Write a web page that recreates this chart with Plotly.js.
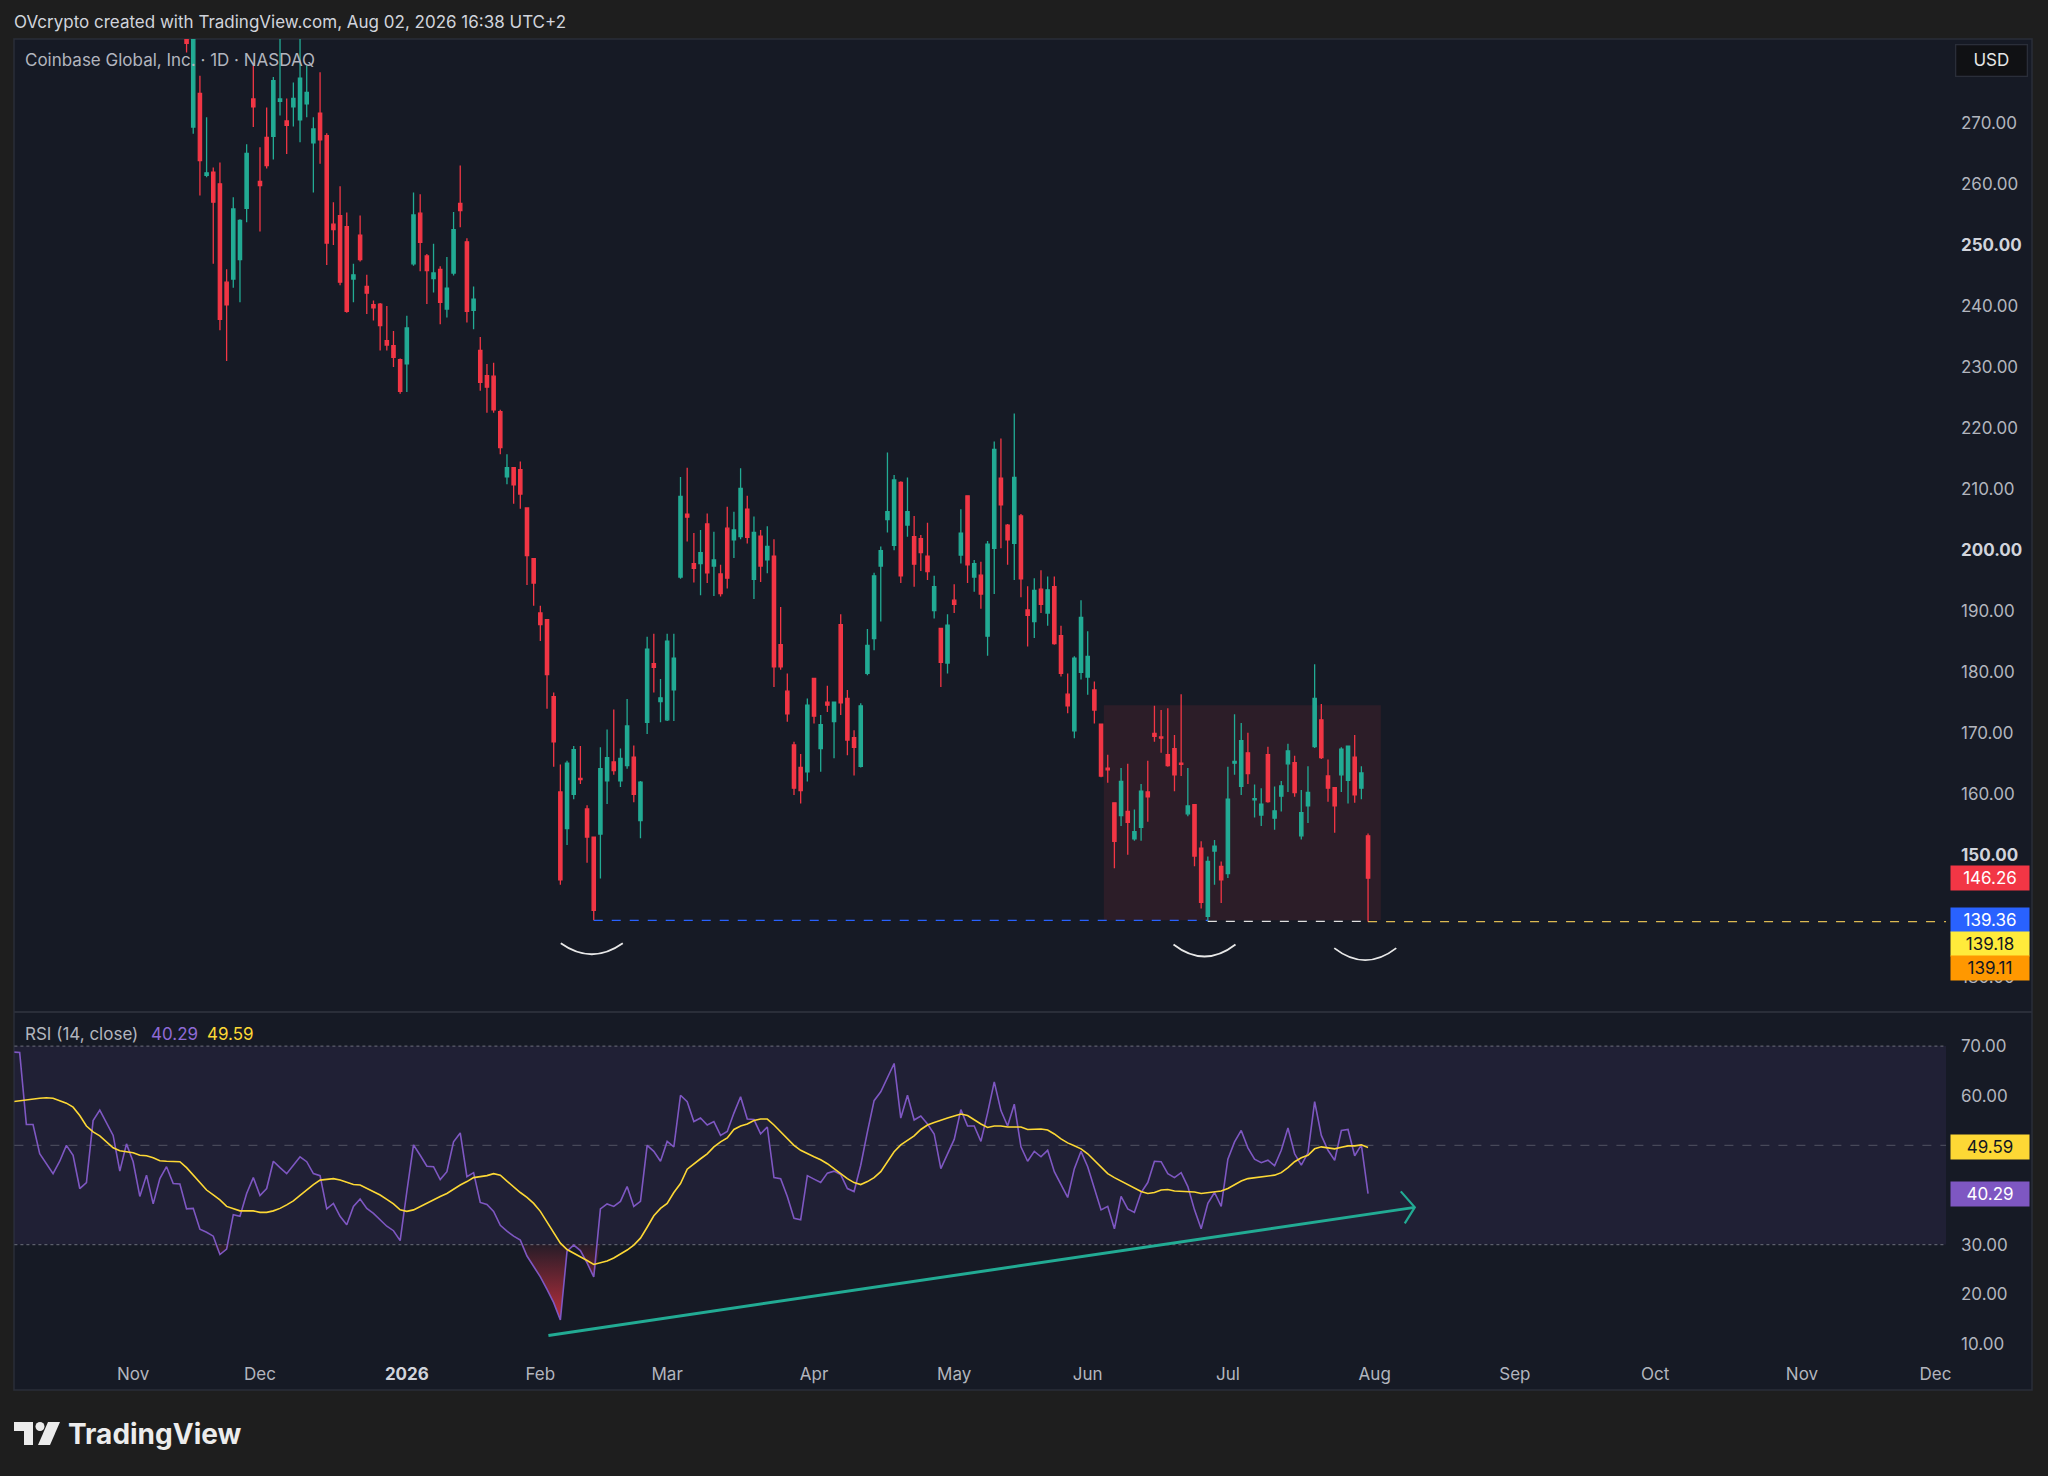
<!DOCTYPE html>
<html><head><meta charset="utf-8">
<script src="https://cdn.plot.ly/plotly-3.0.1.min.js"></script>
<style>html,body{margin:0;padding:0;background:#1e1e1e;}#chart{width:2048px;height:1476px;}</style>
</head><body><div id="chart"></div><script>
// ---- data ----
const HOLIDAYS = ['2025-11-27','2025-12-25','2026-01-01','2026-01-19','2026-02-16','2026-04-03','2026-05-25','2026-06-19','2026-07-03','2026-09-07','2026-11-26'];
const RSI_START = '2025-10-08';      // first RSI bar
const CANDLE_OFFSET = 26;             // first visible candle (2025-11-13)

const open = [290,269.3,274.8,261.4,261.9,260.0,243.9,244.4,247.6,256.0,
273.9,260.4,267.6,267.8,273.5,270.3,272.6,270.5,273.1,266.7,
271.6,267.9,253.4,254.8,253.0,244.4,251.6,243.2,240.2,240.3,
234.3,233.5,231.2,230.5,246.9,255.2,248.2,244.5,246.0,239.5,
245.4,256.8,250.5,239.3,232.7,228.6,228.5,222.7,212.0,213.5,
213.2,206.9,198.6,189.7,188.6,176.0,160.4,154.4,160.0,162.6,
157.6,153.0,153.5,162.2,165.3,162.2,164.7,166.1,155.7,171.8,
181.4,175.2,172.2,177.1,195.6,205.9,197.8,197.8,204.3,197.4,
196.1,203.6,201.7,202.2,206.7,195.2,202.3,198.4,199.0,184.5,
176.9,168.1,164.4,163.7,179.0,167.5,175.1,171.9,187.8,175.7,
169.3,164.6,179.8,185.5,197.4,205.0,200.8,211.1,204.1,202.2,
201.9,199.0,190.1,187.2,181.5,191.8,199.2,208.9,195.6,195.9,
185.9,200.3,211.8,204.1,201.1,205.6,190.2,188.3,193.6,189.7,
194.0,186.0,176.4,170.4,180.0,179.2,177.1,171.5,164.3,158.6,
156.5,157.2,152.7,154.6,160.4,170.0,169.4,166.5,167.5,165.1,
156.8,158.3,151.2,140.0,150.7,148.2,147.0,165.1,161.3,166.8,
159.1,156.6,166.5,156.1,159.7,165.0,165.2,153.2,158.1,167.8,
172.2,163.0,161.1,163.2,162.3,166.1,161.0,153.2];
const high = [295,295,277.7,270.9,262.7,263.5,246.0,257.8,254.2,266.5,
279.4,266.0,272.5,277.5,290,274.0,276.6,290,279.4,270.9,
278.3,268.3,257.0,259.6,255.3,246.9,254.8,245.1,240.9,240.5,
240.0,235.9,231.4,238.4,258.6,258.3,248.5,250.2,246.5,248.0,
255.4,263.0,251.1,243.2,234.9,230.5,230.7,223.0,215.7,213.6,
214.5,207.0,198.7,190.9,188.7,176.7,164.9,165.5,167.9,167.9,
158.2,153.1,167.7,170.6,173.9,167.5,175.6,168.0,162.2,185.8,
186.3,178.9,186.3,186.3,212.0,213.5,202.8,203.3,206.0,203.0,
197.6,207.1,206.3,213.4,208.9,205.5,203.3,203.9,201.8,190.7,
179.8,168.6,166.6,175.7,179.1,173.0,177.8,175.2,189.5,177.1,
170.5,174.9,187.1,196.3,200.6,216.0,212.3,211.3,211.9,205.6,
202.5,204.5,195.8,187.3,189.5,194.4,206.7,209.0,198.4,198.1,
201.5,217.8,218.3,204.3,222.4,205.9,194.1,195.4,196.7,195.7,
195.7,187.6,179.8,182.6,191.8,186.7,178.5,171.6,166.5,158.7,
164.3,165.0,157.5,161.7,165.5,174.5,173.8,174.1,169.7,176.4,
164.3,158.4,152.3,149.8,152.5,149.0,164.5,173.1,171.7,170.1,
161.6,161.0,167.8,161.3,162.2,168.3,166.3,160.7,164.6,181.3,
174.8,165.7,161.2,167.7,168.0,169.7,164.6,153.6];
const low = [281.5,268.2,258.1,261.1,246.9,236.0,231.0,243.0,240.6,253.7,
269.3,252.2,262.5,264.0,271.2,264.9,269.4,266.8,270.9,258.6,
263.3,246.7,250.0,243.4,238.9,240.6,247.3,238.7,237.6,232.7,
232.7,230.0,225.6,225.9,246.6,245.7,240.3,242.2,237.0,238.1,
245.0,252.9,237.3,236.2,226.1,222.5,222.5,215.7,210.8,207.6,
206.8,194.3,190.9,185.1,174.0,164.5,145.2,151.7,159.2,161.7,
148.8,139.36,146.2,158.4,163.2,161.2,164.2,158.7,152.8,169.9,
176.7,171.8,172.0,172.0,195.3,201.4,194.7,192.6,194.6,192.5,
192.4,193.7,198.7,201.8,201.1,192.0,194.8,196.2,177.6,180.4,
171.9,159.9,158.5,162.1,171.6,163.7,173.5,165.9,173.0,166.4,
163.1,164.4,179.5,183.6,188.3,202.9,200.0,194.6,202.2,194.0,
196.6,195.1,188.8,177.6,179.8,189.7,197.8,194.6,193.2,190.4,
182.7,192.8,200.3,197.6,195.1,192.3,184.2,185.6,189.7,187.6,
184.5,179.3,173.3,169.2,178.8,176.3,171.6,162.8,161.9,147.9,
154.8,150.1,152.4,152.4,155.5,168.6,166.8,164.5,160.5,163.0,
156.4,148.2,141.3,139.18,145.2,142.2,146.3,163.2,159.9,161.7,
156.2,154.8,158.6,154.2,157.2,160.4,159.6,152.6,155.3,167.6,
165.8,158.8,153.7,160.4,158.5,158.6,159.2,139.11];
const close = [283,290,263.8,261.8,257.0,237.8,240.2,255.9,254.0,265.0,
272.6,259.7,263.0,276.9,273.9,269.6,274.0,277.3,275.0,269.0,
267.2,250.3,252.5,243.9,239.1,245.1,247.6,242.1,239.7,236.8,
233.6,231.6,226.0,236.4,254.9,250.4,245.8,245.4,240.6,242.9,
252.5,255.6,239.1,241.1,227.5,226.7,223.0,216.8,213.5,210.7,
209.2,199.1,194.6,187.8,179.6,168.6,146.0,165.1,167.3,162.4,
153.0,141.0,164.2,166.0,163.9,165.9,171.2,160.0,162.0,183.8,
180.8,175.8,185.1,182.3,208.8,205.4,197.0,199.6,196.3,198.4,
192.9,195.4,203.3,210.1,202.1,202.9,197.4,200.6,180.9,180.9,
173.2,161.0,160.6,174.6,172.8,171.4,174.6,175.1,175.0,168.9,
167.7,174.5,184.4,195.8,199.9,206.3,211.5,195.8,206.3,197.7,
199.6,196.5,194.0,181.6,187.7,191.1,202.8,197.6,197.8,192.8,
201.0,216.5,207.4,201.7,211.9,195.3,189.3,193.4,191.1,193.5,
184.7,179.8,174.5,182.3,189.0,182.6,173.8,163.0,164.0,152.3,
162.1,155.4,153.9,160.5,159.6,169.5,169.2,164.7,163.2,164.9,
158.1,149.9,142.3,149.0,151.5,146.0,159.2,165.4,168.8,163.4,
159.3,158.4,158.8,157.3,161.4,167.1,160.3,157.0,160.3,175.7,
166.0,161.0,158.1,167.4,167.9,159.9,163.5,146.26];

const rsi = [68.8,68.7,54.2,54.2,48.3,46.3,44.3,46.8,50.0,48.0,41.3,42.5,55.0,57.1,54.7,52.0,44.8,50.3,46.7,39.7,44.0,38.2,43.3,45.7,42.3,42.2,
37.2,37.3,33.1,32.5,31.7,28.0,29.1,36.0,35.7,40.3,43.5,39.9,41.3,46.8,45.5,44.3,46.0,47.7,46.7,44.3,43.9,37.2,38.3,35.7,34.0,37.7,39.2,37.3,36.3,35.0,33.7,32.8,30.8,40.7,50.1,48.0,45.8,45.7,43.1,44.7,50.7,52.5,43.7,
44.5,38.5,38.1,36.7,33.9,32.7,31.7,30.9,27.7,25.5,23.5,21.0,18.3,14.8,28.7,29.9,28.8,26.3,23.5,37.2,38.2,37.7,38.7,41.7,37.7,38.7,50.0,48.8,46.8,50.8,49.7,60.1,58.8,54.8,55.5,54.1,54.8,52.0,52.8,56.5,59.8,55.3,55.2,52.3,53.7,43.5,43.3,39.7,35.3,35.0,43.9,43.2,42.5,44.4,44.8,44.1,41.3,40.7,46.0,52.7,59.0,60.8,63.7,66.5,55.5,60.1,55.1,55.9,
54.3,52.3,45.3,48.3,51.2,57.2,53.9,53.9,50.8,56.5,62.8,57.0,53.9,58.3,49.7,46.8,48.8,47.7,49.0,44.7,42.1,39.5,45.3,48.8,45.7,41.3,37.0,37.7,33.2,39.7,37.2,36.5,40.5,42.5,46.8,46.7,44.3,43.5,44.5,41.7,37.0,33.2,38.3,40.5,37.7,47.2,50.7,53.0,49.5,47.2,46.5,47.0,45.9,49.0,53.5,48.3,46.0,48.5,58.8,52.0,49.0,47.0,53.0,53.2,47.9,50.1,40.29];
const rsiMA = [58.8,59.0,59.1,59.3,59.5,59.6,59.5,59.0,58.5,57.7,56.0,53.9,52.7,51.9,50.7,49.5,48.9,48.7,48.5,48.0,47.9,47.5,46.9,46.8,46.8,46.7,
45.5,44.0,42.5,41.0,40.0,39.0,37.7,37.2,36.8,36.8,36.8,36.5,36.5,36.8,37.3,38.0,38.8,39.9,41.0,42.1,43.0,43.2,43.3,43.0,42.5,42.1,42.0,41.3,40.7,40.0,39.1,38.2,37.0,36.7,37.0,37.7,38.3,39.0,39.7,40.3,41.2,42.0,42.7,
43.5,43.7,43.9,44.3,44.0,42.8,41.6,40.5,39.5,38.3,36.7,34.5,32.3,30.3,29.0,28.3,27.5,26.8,26.0,26.3,26.7,27.3,28.1,28.9,29.9,31.3,33.5,35.8,37.3,38.3,40.5,42.3,45.2,46.3,47.3,48.3,49.7,50.7,51.5,53.2,53.9,54.3,55.0,55.3,55.3,54.1,52.7,51.3,50.0,49.0,48.3,47.7,47.1,46.3,45.3,44.3,43.3,42.5,42.1,42.7,43.5,44.7,46.7,48.7,50.1,51.0,51.9,53.2,
54.1,54.6,55.1,55.5,55.9,56.3,56.0,55.1,54.3,53.6,53.9,53.9,53.7,53.7,53.7,53.2,53.3,53.3,53.1,52.3,51.3,50.5,49.9,49.3,48.3,47.0,45.5,44.3,43.5,42.8,42.1,41.3,40.7,40.3,40.5,41.0,41.1,40.8,40.7,40.7,40.6,40.3,40.5,40.7,40.8,41.3,42.0,42.8,43.3,43.5,43.6,43.8,44.0,44.5,45.5,46.7,47.5,48.0,49.3,49.7,49.5,49.3,49.6,49.9,49.9,50.1,49.59];

const monthTickDates = ['2025-11-03','2025-12-01','2026-01-02','2026-02-02','2026-03-02','2026-04-01','2026-05-01','2026-06-01','2026-07-01','2026-08-03','2026-09-01','2026-10-01','2026-11-02','2026-12-01'];
const monthTickText = ['Nov','Dec','<b style="color:#d1d4dc">2026</b>','Feb','Mar','Apr','May','Jun','Jul','Aug','Sep','Oct','Nov','Dec'];
const priceTicks = [130,150,160,170,180,190,200,210,220,230,240,250,260,270];
const rsiTicks = [10,20,30,60,70];

// ---- trading-day calendar ----
function tradingDays(start, n){
  const out=[]; const d=new Date(start+'T00:00:00Z');
  while(out.length<n){
    const s=d.toISOString().slice(0,10), wd=d.getUTCDay();
    if(wd!==0 && wd!==6 && HOLIDAYS.indexOf(s)<0) out.push(s);
    d.setUTCDate(d.getUTCDate()+1);
  }
  return out;
}
const rsiDates = tradingDays(RSI_START, rsi.length);
const candleDates = rsiDates.slice(CANDLE_OFFSET, CANDLE_OFFSET+open.length);

const W=2048,H=1476;
const px=x=>x/W, py=y=>1-y/H;
const FONT='Inter, "Noto Sans", Roboto, sans-serif';
const GREEN='#22ab94', RED='#f23645', PURPLE='#7e57c2', YEL='#fdd835';

const fmt=v=>v.toFixed(2);
const priceText = priceTicks.map(v=> (v%50===0) ? '<b style="color:#d1d4dc">'+fmt(v)+'</b>' : fmt(v));

const traces = [
  {type:'candlestick', x:candleDates, open:open, high:high, low:low, close:close,
   xaxis:'x', yaxis:'y', whiskerwidth:0, hoverinfo:'skip',
   increasing:{line:{color:GREEN,width:1.3}, fillcolor:GREEN},
   decreasing:{line:{color:RED,width:1.3}, fillcolor:RED}},
  {type:'scatter', mode:'lines', x:rsiDates, y:rsi.map(()=>30), xaxis:'x', yaxis:'y2',
   line:{width:0, color:'rgba(0,0,0,0)'}, hoverinfo:'skip'},
  {type:'scatter', mode:'lines', x:rsiDates, y:rsi.map(v=>Math.min(v,30)), xaxis:'x', yaxis:'y2',
   line:{width:0, color:'rgba(0,0,0,0)'}, fill:'tonexty',
   fillgradient:{type:'vertical', colorscale:[[0,'rgba(242,54,69,0.75)'],[1,'rgba(242,54,69,0.08)']]},
   hoverinfo:'skip'},
  {type:'scatter', mode:'lines', x:rsiDates, y:rsi, xaxis:'x', yaxis:'y2',
   line:{color:PURPLE, width:1.6}, hoverinfo:'skip'},
  {type:'scatter', mode:'lines', x:rsiDates, y:rsiMA, xaxis:'x', yaxis:'y2',
   line:{color:YEL, width:1.6}, hoverinfo:'skip'}
];

const shapes = [
  {type:'rect', xref:'paper', yref:'paper', x0:px(14), x1:px(2032), y0:py(1390), y1:py(39),
   fillcolor:'#161a25', line:{color:'#2a2e39', width:1.5}, layer:'below'},
  {type:'line', xref:'paper', yref:'paper', x0:px(14), x1:px(2032), y0:py(1012), y1:py(1012),
   line:{color:'#2a2e39', width:2}},
  {type:'rect', xref:'x domain', yref:'y2', x0:0, x1:1, y0:30, y1:70,
   fillcolor:'rgba(126,87,194,0.1)', line:{width:0}, layer:'below'},
  {type:'line', xref:'x domain', yref:'y2', x0:0, x1:1, y0:70, y1:70, line:{color:'rgba(120,123,134,0.7)', width:1.3, dash:'dot'}, layer:'below'},
  {type:'line', xref:'x domain', yref:'y2', x0:0, x1:1, y0:50, y1:50, line:{color:'rgba(120,123,134,0.45)', width:1.3, dash:'dash'}, layer:'below'},
  {type:'line', xref:'x domain', yref:'y2', x0:0, x1:1, y0:30, y1:30, line:{color:'rgba(120,123,134,0.7)', width:1.3, dash:'dot'}, layer:'below'},
  {type:'rect', xref:'x', yref:'y', x0:'2026-06-03 10:00', x1:'2026-08-03 22:00', y0:139.36, y1:174.6,
   fillcolor:'rgba(242,54,69,0.1)', line:{width:0}, layer:'below'},
  {type:'line', xref:'x', yref:'y', x0:'2026-02-12', x1:'2026-06-26', y0:139.36, y1:139.36, line:{color:'#2962ff', width:1.3, dash:'dash'}},
  {type:'line', xref:'x', yref:'y', x0:'2026-06-26', x1:'2026-07-31', y0:139.2, y1:139.2, line:{color:'#e0e0e0', width:1.3, dash:'dash'}},
  {type:'line', xref:'x', yref:'y', x0:'2026-07-31', x1:'2026-12-02 14:00', y0:139.15, y1:139.15, line:{color:'rgba(255,214,90,0.85)', width:1.2, dash:'dash'}},
  {type:'path', xref:'x', yref:'y', xsizemode:'pixel', ysizemode:'pixel', xanchor:'2026-02-11 17:00', yanchor:135.6,
   path:'M-31,0 Q0,-22 31,0', line:{color:'#e8e8e8', width:1.8}},
  {type:'path', xref:'x', yref:'y', xsizemode:'pixel', ysizemode:'pixel', xanchor:'2026-06-25 12:00', yanchor:135.4,
   path:'M-31,0 Q0,-24 31,0', line:{color:'#e8e8e8', width:1.8}},
  {type:'path', xref:'x', yref:'y', xsizemode:'pixel', ysizemode:'pixel', xanchor:'2026-07-30 14:00', yanchor:134.8,
   path:'M-31,0 Q0,-24 31,0', line:{color:'#e8e8e8', width:1.8}},
  {type:'line', xref:'x', yref:'y2', x0:'2026-02-03 05:00', x1:'2026-08-11', y0:11.7, y1:37.5,
   line:{color:GREEN, width:3}},
  {type:'path', xref:'x', yref:'y2', xsizemode:'pixel', ysizemode:'pixel', xanchor:'2026-08-11', yanchor:37.5,
   path:'M-14,16 L0,0 L-10,-16', line:{color:GREEN, width:2.2}},
  {type:'path', xref:'paper', yref:'paper', xsizemode:'pixel', ysizemode:'pixel', xanchor:px(14), yanchor:py(1445),
   path:'M0,23 H19 V0 H10 V14 H0 Z', fillcolor:'#ececec', line:{width:0}},
  {type:'circle', xref:'paper', yref:'paper', xsizemode:'pixel', ysizemode:'pixel', xanchor:px(14), yanchor:py(1445),
   x0:21.5, x1:30.5, y0:14, y1:23, fillcolor:'#ececec', line:{width:0}},
  {type:'path', xref:'paper', yref:'paper', xsizemode:'pixel', ysizemode:'pixel', xanchor:px(14), yanchor:py(1445),
   path:'M34,23 H46 L36,0 H24 Z', fillcolor:'#ececec', line:{width:0}}
];

function box(text, y, yref, bg, fg, yshift){
  return {xref:'paper', yref:yref, x:px(1950), y:y, xanchor:'left', yanchor:'middle', yshift:yshift||0,
    text:text, showarrow:false, bgcolor:bg, borderpad:2, width:74, height:20, align:'center',
    font:{family:FONT, size:17, color:fg}};
}
function label(text, x, y, size, color, extra){
  return Object.assign({xref:'paper', yref:'paper', x:px(x), y:py(y), xanchor:'left', yanchor:'middle',
    text:text, showarrow:false, font:{family:FONT, size:size, color:color}}, extra||{});
}

const annotations = [
  label('OVcrypto created with TradingView.com, Aug 02, 2026 16:38 UTC+2', 12, 22, 17, '#d1d4dc'),
  label('Coinbase Global, Inc. · 1D · NASDAQ', 23, 60, 17, '#b2b5be'),
  label('RSI (14, close)', 23, 1034, 17, '#b2b5be'),
  label('40.29', 149, 1034, 17, '#8e6ad6'),
  label('49.59', 205, 1034, 17, YEL),
  label('<b>TradingView</b>', 66, 1434, 28, '#ececec'),
  {xref:'paper', yref:'paper', x:px(1991), y:py(61), xanchor:'center', yanchor:'middle', text:'USD', showarrow:false,
   bgcolor:'#101114', bordercolor:'#2a2e39', borderwidth:1.3, borderpad:4, width:62, height:22,
   font:{family:FONT, size:17, color:'#e6e6e6'}},
  box('146.26', 146.26, 'y', RED, '#ffffff', 0),
  box('139.36', 139.36, 'y', '#2962ff', '#ffffff', 0),
  box('139.18', 139.18, 'y', '#ffeb3b', '#131722', -23),
  box('139.11', 139.11, 'y', '#ff9800', '#131722', -46),
  box('49.59', 49.59, 'y2', YEL, '#131722', 0),
  box('40.29', 40.29, 'y2', PURPLE, '#ffffff', 0)
];

const layout = {
  width:W, height:H, margin:{l:0,r:0,t:0,b:0},
  paper_bgcolor:'#1e1e1e', plot_bgcolor:'rgba(0,0,0,0)',
  showlegend:false, hovermode:false, dragmode:false,
  font:{family:FONT, color:'#b2b5be', size:17},
  xaxis:{type:'date', domain:[px(14.4), px(1946)], anchor:'y2',
    range:['2025-10-08 05:00','2026-12-02 14:00'],
    rangebreaks:[{bounds:['sat','mon']},{values:HOLIDAYS}],
    rangeslider:{visible:false},
    tickmode:'array', tickvals:monthTickDates, ticktext:monthTickText,
    showgrid:false, zeroline:false, showline:false, ticks:'', ticklabelstandoff:4,
    tickfont:{family:FONT, size:17, color:'#b2b5be'}},
  yaxis:{domain:[py(1010), py(39)], range:[124.67, 283.73], side:'right', anchor:'x',
    tickmode:'array', tickvals:priceTicks, ticktext:priceText,
    showgrid:false, zeroline:false, showline:false, ticks:'', ticklabelstandoff:14,
    tickfont:{family:FONT, size:17, color:'#b2b5be'}},
  yaxis2:{domain:[py(1358), py(1013.5)], range:[7.15, 76.57], side:'right', anchor:'x',
    tickmode:'array', tickvals:rsiTicks, ticktext:rsiTicks.map(fmt),
    showgrid:false, zeroline:false, showline:false, ticks:'', ticklabelstandoff:14,
    tickfont:{family:FONT, size:17, color:'#b2b5be'}},
  shapes:shapes, annotations:annotations
};

Plotly.newPlot('chart', traces, layout, {staticPlot:true, displayModeBar:false});
</script></body></html>
